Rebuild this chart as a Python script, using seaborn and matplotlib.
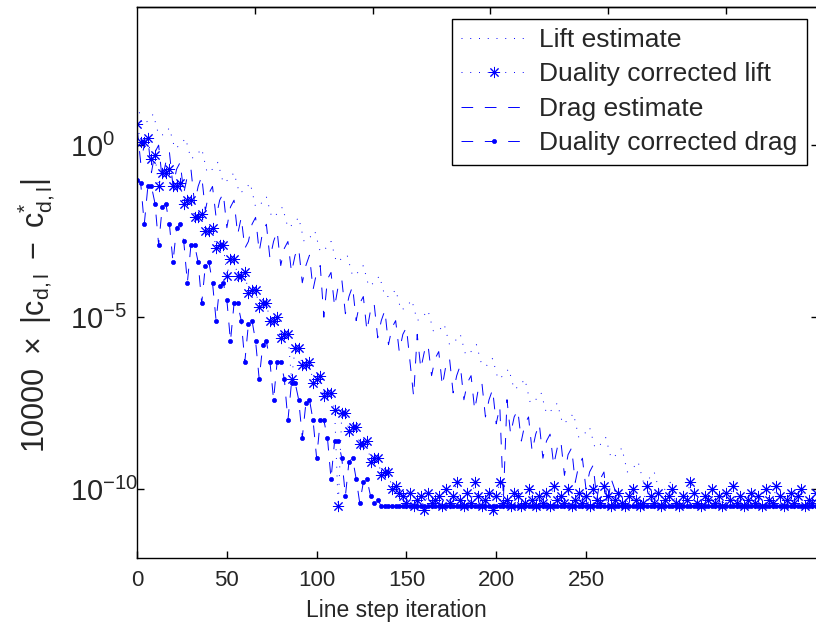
import numpy as np
import seaborn as sns
import matplotlib.pyplot as plt
import matplotlib.ticker as mticker

# log10 of the error (x read against the bottom tick labels)
lift_est_x = np.arange(0, 379, 3)
lift_est = [
    1.2, 0.6, 0.7, 0.9, 0.3, 0.3, 0.5, -0.1, 0.0, 0.2,
    -0.4, -0.3, -0.1, -0.8, -0.7, -0.5, -1.1, -1.0, -0.8, -1.4,
    -1.3, -1.1, -1.8, -1.7, -1.5, -2.1, -2.0, -1.8, -2.4, -2.3,
    -2.1, -2.8, -2.7, -2.5, -3.1, -3.0, -2.8, -3.4, -3.3, -3.2,
    -3.8, -3.7, -3.5, -4.1, -4.0, -3.8, -4.4, -4.4, -4.2, -4.8,
    -4.7, -4.5, -5.1, -5.0, -4.8, -5.4, -5.4, -5.2, -5.8, -5.7,
    -5.5, -6.1, -6.0, -5.8, -6.4, -6.4, -6.2, -6.8, -6.7, -6.5,
    -7.1, -7.0, -6.8, -7.5, -7.4, -7.2, -7.8, -7.7, -7.5, -8.1,
    -8.0, -7.8, -8.5, -8.4, -8.2, -8.8, -8.7, -8.5, -9.1, -9.0,
    -8.8, -9.5, -9.4, -9.2, -9.8, -9.7, -9.5, -10.1, -10.0, -9.8,
    -10.4, -10.4, -10.2,
] + [-10.5] * 24

drag_est_x = np.arange(0, 379, 2)
drag_est = [
    0.5, -0.5, 0.0, 0.2, -0.8, -0.2, 0.0, -1.0, -0.5, -0.2,
    -1.2, -0.7, -0.5, -1.4, -0.9, -0.7, -1.7, -1.2, -0.9, -1.9,
    -1.4, -1.2, -2.1, -1.6, -1.4, -2.4, -1.8, -1.6, -2.6, -2.1,
    -3.0, -2.8, -2.3, -2.1, -3.1, -2.5, -2.3, -3.3, -2.8, -2.5,
    -3.5, -3.0, -2.8, -3.7, -3.2, -3.0, -4.0, -3.5, -3.2, -4.2,
    -3.7, -3.5, -5.0, -3.9, -3.7, -4.7, -4.1, -3.9, -4.9, -4.4,
    -4.1, -5.1, -4.6, -4.4, -5.4, -4.8, -4.6, -5.6, -5.1, -4.8,
    -5.8, -5.3, -5.1, -6.0, -5.5, -5.3, -6.3, -7.3, -5.5, -6.5,
    -6.0, -5.8, -6.7, -6.2, -6.0, -7.0, -6.4, -6.2, -7.2, -6.7,
    -6.4, -7.4, -6.9, -6.7, -7.7, -7.1, -6.9, -7.9, -7.4, -7.1,
    -8.1, -7.6, -10.3, -7.4, -8.4, -7.9, -7.7, -8.6, -8.1, -7.9,
    -8.9, -8.4, -8.1, -9.1, -8.6, -8.4, -9.3, -8.8, -8.6, -9.6,
    -9.0, -8.8, -9.8, -9.3, -9.1, -10.0, -9.5, -9.3, -10.3, -9.7,
    -9.5, -10.5, -9.7, -10.0, -10.5,
] + [-10.5] * 55

corr_lift_x = np.arange(0, 379, 2)
corr_lift = [
    0.6, 0.1, 0.1, 0.2, -0.4, -0.3, -1.2, -0.8, -0.8, -0.7,
    -1.2, -1.2, -1.1, -1.7, -1.6, -1.6, -2.1, -2.1, -2.0, -2.5,
    -2.5, -2.4, -3.0, -2.9, -2.9, -3.8, -3.3, -3.3, -3.8, -3.8,
    -3.7, -4.3, -4.2, -4.2, -4.7, -4.6, -4.6, -5.1, -5.1, -5.0,
    -5.6, -5.5, -5.5, -6.8, -5.9, -5.9, -6.4, -6.4, -6.3, -6.9,
    -6.8, -6.7, -7.3, -7.2, -7.2, -7.7, -10.5, -7.8, -7.8, -8.3,
    -8.2, -8.2, -8.7, -8.7, -8.6, -9.2, -9.1, -9.1, -9.6, -9.5,
    -9.5, -10.0, -9.9, -10.1,
    # noisy floor
    -10.2, -10.4, -10.1, -10.5, -10.3, -10.2, -10.6, -10.1, -10.4, -10.3,
    -10.2, -10.5, -10.0, -10.4, -10.2, -9.8, -10.3, -10.5, -10.1, -10.4,
    -9.8, -10.2, -10.5, -10.3, -10.1, -10.6, -10.2, -9.8, -10.4, -10.3,
    -10.5, -10.1, -10.2, -10.5, -10.4, -10.0, -10.3, -10.5, -10.2, -10.4,
    -10.1, -10.5, -9.9, -10.3, -10.2, -10.4, -10.0, -10.5, -10.3, -10.1,
    -10.4, -10.2, -10.5, -10.0, -10.3, -10.4, -9.9, -10.2, -10.5, -10.3,
    -10.1, -10.4, -10.5, -10.2, -10.0, -10.3, -10.5, -10.4, -9.9, -10.2,
    -10.4, -10.1, -10.5, -10.3, -10.2, -10.0, -10.4, -10.5, -10.2, -10.3,
    -9.8, -10.1, -10.4, -10.5, -10.2, -10.3, -10.0, -10.4, -10.2, -10.5,
    -10.1, -10.3, -9.9, -10.4, -10.2, -10.5, -10.3, -10.1, -10.4, -10.2,
    -10.5, -10.0, -10.3, -10.4, -9.9, -10.2, -10.5, -10.3, -10.1, -10.4,
    -10.2, -10.0, -10.5, -10.3, -10.4, -10.1,
]

corr_drag_x = np.arange(0, 379, 2)
corr_drag = [
    -1.0, -1.1, -2.3, -1.2, -1.2, -1.7, -2.9, -1.8, -1.7, -2.3,
    -3.4, -2.4, -2.3, -2.8, -4.0, -2.9, -2.9, -3.4, -4.6, -3.5,
    -3.4, -4.0, -5.1, -4.1, -4.0, -4.5, -5.7, -4.6, -4.6, -5.1,
    -6.3, -5.2, -5.1, -5.7, -6.8, -5.8, -5.7, -6.3, -7.4, -6.3,
    -6.3, -6.8, -8.0, -6.9, -6.9, -7.4, -8.5, -7.5, -7.4, -8.0,
    -9.1, -8.0, -8.0, -8.5, -9.7, -8.6, -8.6, -9.1, -10.2, -9.2,
    -9.1, -9.7, -10.4, -9.8, -9.7, -10.2, -10.4, -10.3, -10.5,
] + [-10.5] * 121

x_ticks = [0, 50, 100, 150, 200, 250]
top_ticks = [50, 100, 150, 200, 250]

sns.set_theme(style="ticks")
plt.rcParams["font.family"] = ["Liberation Sans", "DejaVu Sans"]
plt.rcParams["mathtext.fontset"] = "custom"
plt.rcParams["mathtext.rm"] = "Liberation Sans"
plt.rcParams["mathtext.it"] = "Liberation Sans:italic"
plt.rcParams["mathtext.bf"] = "Liberation Sans:bold"

blue = "#0000ff"
dotted = (0, (1, 8))
dashed = (0, (12, 12))

fig = plt.figure(figsize=(8.16, 6.3), dpi=100)
ax = fig.add_axes([0.168, 0.1143, 0.834, 0.8738])

sns.lineplot(x=lift_est_x, y=10.0 ** np.array(lift_est), ax=ax, color=blue,
             lw=0.7, linestyle=dotted, label="Lift estimate")
sns.lineplot(x=corr_lift_x, y=10.0 ** np.array(corr_lift), ax=ax, color=blue,
             lw=0.7, linestyle=dotted, marker=(8, 2, 0), markersize=8,
             markeredgewidth=0.7, markeredgecolor=blue,
             label="Duality corrected lift")
sns.lineplot(x=drag_est_x, y=10.0 ** np.array(drag_est), ax=ax, color=blue,
             lw=0.7, linestyle=dashed, label="Drag estimate")
sns.lineplot(x=corr_drag_x, y=10.0 ** np.array(corr_drag), ax=ax, color=blue,
             lw=0.7, linestyle=dashed, marker="o", markersize=3,
             markeredgewidth=0.5, markeredgecolor=blue, markerfacecolor=blue,
             label="Duality corrected drag")

ax.set_yscale("log")
ax.set_xlim(0, 379)
ax.set_ylim(1e-12, 1e4)
ax.set_xticks(x_ticks)
ax.set_yticks([1e-10, 1e-5, 1e0], [r"$10^{-10}$", r"$10^{-5}$", r"$10^{0}$"])
ax.yaxis.set_minor_locator(mticker.NullLocator())
ax.tick_params(axis="both", direction="in", length=5, width=1, color="black")
ax.tick_params(axis="x", labelsize=16, pad=9)
ax.tick_params(axis="y", labelsize=21, pad=48, right=True)
for t in ax.get_yticklabels():
    t.set_horizontalalignment("left")

for s in ax.spines.values():
    s.set_color("black")
    s.set_linewidth(1.0)

# top ticks sit on a different spacing in the reference
top = ax.secondary_xaxis("top", functions=(lambda v: v * 50 / 65.6,
                                           lambda v: v * 65.6 / 50))
top.set_xticks(top_ticks)
top.set_xticklabels([])
top.tick_params(direction="in", length=5, width=1, color="black")
top.spines["top"].set_linewidth(1.0)
top.spines["top"].set_color("black")

ax.set_xlabel("Line step iteration", fontsize=16.5)
ax.xaxis.set_label_coords(0.381, -0.075)
ax.set_ylabel(r"$\mathrm{10000\ \times\ |c_{d,l}\ -\ c^{*}_{d,l}|}$", fontsize=22)
ax.yaxis.set_label_coords(-0.117, 0.441)

leg = ax.legend(loc="upper right", fontsize=19, frameon=True, fancybox=False,
                framealpha=1, edgecolor="black", handlelength=2.5,
                handletextpad=0.45, labelspacing=0.4, borderpad=0.35,
                borderaxespad=0.42)
leg.get_frame().set_linewidth(1.0)

fig.savefig("out.png", dpi=100)
